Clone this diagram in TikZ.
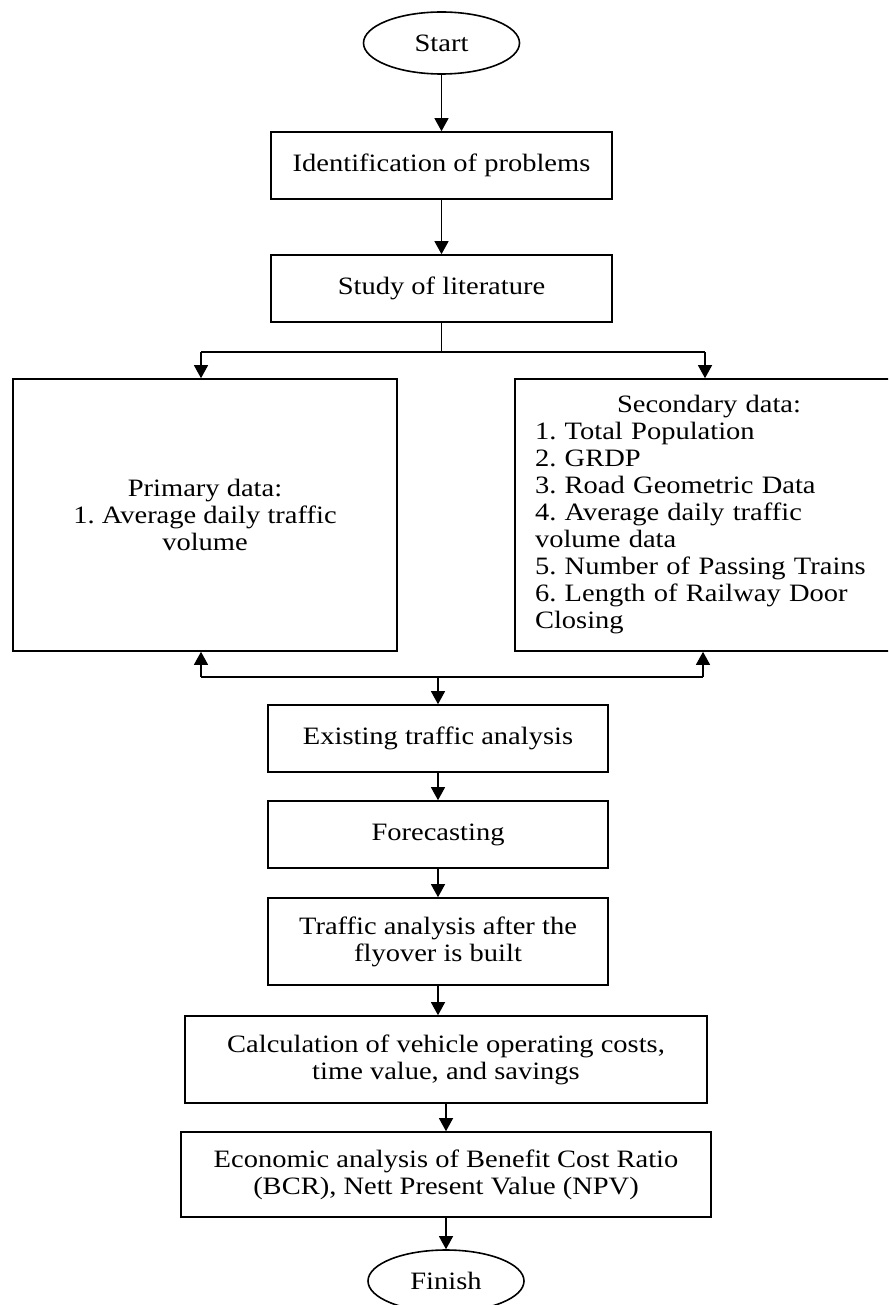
\documentclass[tikz,border=0pt]{standalone}
\usepackage{fontspec}
\setmainfont{Liberation Serif}[FakeStretch=1.14]
\usetikzlibrary{shapes.geometric,arrows.meta}
\frenchspacing
\newcommand\flowfont{\fontsize{25}{27}\selectfont}
\tikzset{
  box/.style={draw, rectangle, line width=1.6pt, inner sep=0pt, align=center, font=\flowfont},
  term/.style={draw, ellipse, line width=1.6pt, inner sep=0pt, font=\flowfont, minimum width=156pt, minimum height=62pt},
  conn/.style={line width=1.2pt},
  arr/.style={conn, -{Triangle[width=14pt,length=13pt]}},
}
\begin{document}
\begin{tikzpicture}[x=1pt,y=-1pt]
\useasboundingbox (0,0) rectangle (888,1305);
\clip (0,0) rectangle (888,1305);
% nodes
\node[term] (start) at (441.5,43) {Start};
\node[box, minimum width=341pt, minimum height=67pt] (ident) at (441.5,165.5) {Identification of problems};
\node[box, minimum width=341pt, minimum height=67pt] (study) at (441.5,288.5) {Study of literature};
\node[box, minimum width=384pt, minimum height=272pt] (prim) at (205,515) {Primary data:\\1. Average daily traffic\\volume};
\node[box, minimum width=388pt, minimum height=272pt, text width=348pt, align=left] (sec) at (709,515)
  {\makebox[348pt][c]{Secondary data:}\\
   1. Total Population\\
   2. GRDP\\
   3. Road Geometric Data\\
   4. Average daily traffic\\
   volume data\\
   5. Number of Passing Trains\\
   6. Length of Railway Door\\
   Closing};
\node[box, minimum width=340pt, minimum height=67pt] (exist) at (438,738.5) {Existing traffic analysis};
\node[box, minimum width=340pt, minimum height=67pt] (fore) at (438,834.5) {Forecasting};
\node[box, minimum width=340pt, minimum height=87pt] (after) at (438,941.5) {Traffic analysis after the\\flyover is built};
\node[box, minimum width=522pt, minimum height=87pt] (calc) at (446,1059.5) {Calculation of vehicle operating costs,\\time value, and savings};
\node[box, minimum width=530pt, minimum height=85pt] (econ) at (446,1174.5) {Economic analysis of Benefit Cost Ratio\\(BCR), Nett Present Value (NPV)};
\node[term] (finish) at (446,1281) {Finish};
% split / merge points
\coordinate (s1) at (201,352);
\coordinate (s2) at (705,352);
\coordinate (m1) at (201,677);
\coordinate (m2) at (703,677);
% connectors
\draw[arr] (start.south) -- (ident.north);
\draw[arr] (ident.south) -- (study.north);
\draw[conn] (study.south) -- (study.south |- s1);
\draw[conn] (s1) -- (s2);
\draw[arr] (s1) -- (s1 |- prim.north);
\draw[arr] (s2) -- (s2 |- sec.north);
\draw[arr] (m1) -- (m1 |- prim.south);
\draw[arr] (m2) -- (m2 |- sec.south);
\draw[conn] (m1) -- (m2);
\draw[arr] (exist.north |- m1) -- (exist.north);
\draw[arr] (exist.south) -- (fore.north);
\draw[arr] (fore.south) -- (after.north);
\draw[arr] (after.south) -- (after.south |- calc.north);
\draw[arr] (calc.south) -- (econ.north);
\draw[arr] (econ.south) -- (finish.north);
\end{tikzpicture}
\end{document}
